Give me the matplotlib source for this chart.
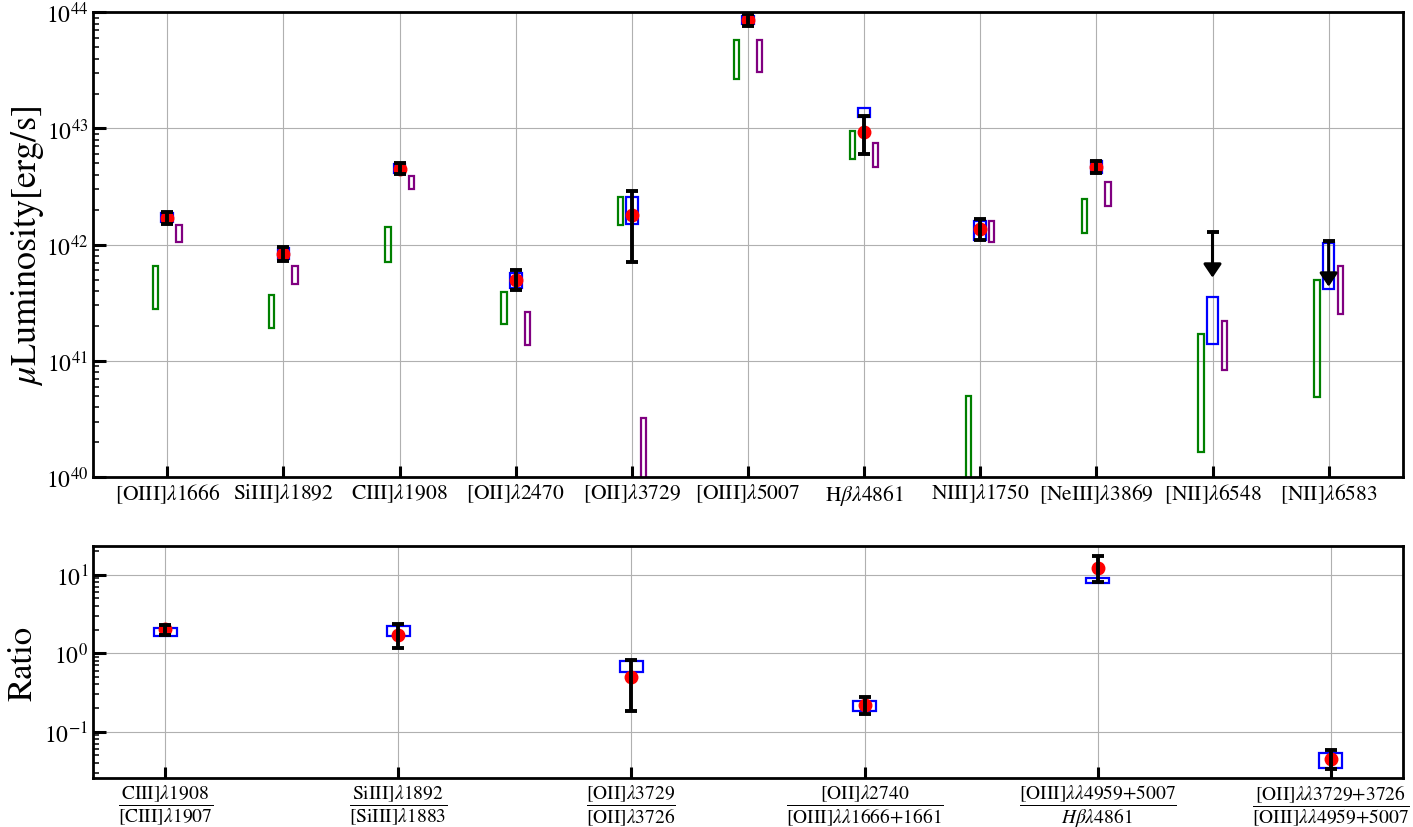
import numpy as np
import matplotlib
matplotlib.use("Agg")
import matplotlib.pyplot as plt

plt.rcParams["font.family"] = "serif"
plt.rcParams["font.serif"] = ["STIXGeneral", "Liberation Serif", "DejaVu Serif"]
plt.rcParams["mathtext.fontset"] = "stix"

# ---- luminosity panel ----
line_names = [r"[OIII]$\lambda$1666", r"SiIII]$\lambda$1892", r"CIII]$\lambda$1908",
              r"[OII]$\lambda$2470", r"[OII]$\lambda$3729", r"[OIII]$\lambda$5007",
              r"H$\beta\lambda$4861", r"NIII]$\lambda$1750", r"[NeIII]$\lambda$3869",
              r"[NII]$\lambda$6548", r"[NII]$\lambda$6583"]

# measured luminosities (nan = upper limit only)
lum = [1.70e42, 8.3e41, 4.52e42, 4.95e41, 1.79e42, 8.53e43, 9.35e42, 1.37e42, 4.63e42, np.nan, np.nan]
lum_lo = [1.51e42, 7.28e41, 4.07e42, 4.06e41, 7.08e41, 7.57e43, 6.0e42, 1.10e42, 4.12e42, np.nan, np.nan]
lum_hi = [1.91e42, 9.48e41, 5.01e42, 6.04e41, 2.88e42, 9.62e43, 1.27e43, 1.65e42, 5.20e42, np.nan, np.nan]

# upper limits for the [NII] lines
ulim_idx = [9, 10]
ulim_top = [1.29e42, 1.07e42]
ulim_tip = [5.2e41, 4.35e41]

# model ranges
blue_lo = [1.57e42, 7.46e41, 4.12e42, 4.23e41, 1.50e42, 7.89e43, 1.25e43, 1.10e42, 4.12e42, 1.40e41, 4.12e41]
blue_hi = [1.87e42, 9.35e41, 4.95e42, 5.66e41, 2.59e42, 9.25e43, 1.49e43, 1.60e42, 5.20e42, 3.54e41, 1.04e42]
green_lo = [2.77e41, 1.92e41, 7.08e41, 2.07e41, 1.49e42, 2.66e43, 5.51e42, 1e39, 1.25e42, 1.64e40, 4.85e40]
green_hi = [6.55e41, 3.66e41, 1.41e42, 3.90e41, 2.59e42, 5.74e43, 9.53e42, 5.02e40, 2.48e42, 1.69e41, 4.95e41]
purple_lo = [1.05e42, 4.61e41, 3.04e42, 1.36e41, 1e39, 3.04e43, 4.67e42, 1.06e42, 2.14e42, 8.41e40, 2.51e41]
purple_hi = [1.47e42, 6.55e41, 3.90e42, 2.62e41, 3.20e40, 5.74e43, 7.57e42, 1.60e42, 3.44e42, 2.22e41, 6.55e41]

# ---- ratio panel ----
ratio_names = [
    r"$\dfrac{\mathrm{CIII]}\lambda1908}{\mathrm{[CIII]}\lambda1907}$",
    r"$\dfrac{\mathrm{SiIII]}\lambda1892}{\mathrm{[SiIII]}\lambda1883}$",
    r"$\dfrac{\mathrm{[OII]}\lambda3729}{\mathrm{[OII]}\lambda3726}$",
    r"$\dfrac{\mathrm{[OII]}\lambda2740}{\mathrm{[OIII]}\lambda\lambda1666{+}1661}$",
    r"$\dfrac{\mathrm{[OIII]}\lambda\lambda4959{+}5007}{H\beta\lambda4861}$",
    r"$\dfrac{\mathrm{[OII]}\lambda\lambda3729{+}3726}{\mathrm{[OIII]}\lambda\lambda4959{+}5007}$",
]
ratio = [2.04, 1.72, 0.50, 0.219, 12.3, 0.0449]
ratio_lo = [1.71, 1.15, 0.182, 0.169, 8.0, 0.0335]
ratio_hi = [2.29, 2.38, 0.826, 0.277, 17.1, 0.059]
rblue_lo = [1.67, 1.67, 0.58, 0.184, 7.76, 0.0342]
rblue_hi = [2.11, 2.20, 0.789, 0.248, 9.0, 0.054]


def style_axis(ax):
    ax.set_yscale("log")
    ax.set_axisbelow(True)
    ax.grid(True, which="major", color="#b0b0b0", lw=0.8)
    for sp in ax.spines.values():
        sp.set_linewidth(2.0)
    ax.tick_params(axis="y", which="major", direction="in", length=9, width=2.2, labelsize=17)
    ax.tick_params(axis="y", which="minor", direction="in", length=4.5, width=1.1)
    ax.tick_params(axis="x", which="major", direction="in", length=8, width=2.2)


def boxes(ax, x, lo, hi, off, width, color):
    lo = np.array(lo)
    hi = np.array(hi)
    ax.bar(np.array(x) + off, hi - lo, bottom=lo, width=width, fill=False,
           edgecolor=color, linewidth=1.6, zorder=2)


fig = plt.figure(figsize=(14.13, 8.28), dpi=100)
ax1 = fig.add_axes([0.0658, 0.4227, 0.9271, 0.5612])
ax2 = fig.add_axes([0.0658, 0.0592, 0.9271, 0.2798])

# top panel
x1 = np.arange(len(line_names))
boxes(ax1, x1, green_lo, green_hi, -0.1, 0.045, "green")
boxes(ax1, x1, purple_lo, purple_hi, 0.1, 0.045, "purple")
boxes(ax1, x1, blue_lo, blue_hi, 0.0, 0.1, "blue")
lum_a = np.array(lum)
ax1.plot(x1, lum_a, "o", color="red", ms=9, zorder=3)
ax1.errorbar(x1, lum_a, yerr=[lum_a - np.array(lum_lo), np.array(lum_hi) - lum_a],
             fmt="none", ecolor="black", elinewidth=2.8, capsize=4.3, capthick=2.8, zorder=4)
for i, top, tip in zip(ulim_idx, ulim_top, ulim_tip):
    ax1.annotate("", xy=(x1[i], tip), xytext=(x1[i], top),
                 arrowprops=dict(arrowstyle="-|>,head_length=0.4,head_width=0.27",
                                 lw=2.2, color="black", shrinkA=0, shrinkB=0,
                                 mutation_scale=20), zorder=5)
    ax1.plot(x1[i], top, marker="_", ms=8.6, mew=2.8, color="black", zorder=5)

style_axis(ax1)
ax1.set_ylim(1e40, 1e44)
ax1.set_xlim(-0.64, 10.64)
ax1.set_xticks(x1)
ax1.set_xticklabels(line_names, fontsize=15.5)
ax1.set_ylabel(r"$\mu$Luminosity[erg/s]", fontsize=26)
ax1.yaxis.set_label_coords(-0.036, 0.5)

# bottom panel
x2 = np.arange(len(ratio_names))
boxes(ax2, x2, rblue_lo, rblue_hi, 0.0, 0.1, "blue")
r = np.array(ratio)
ax2.plot(x2, r, "o", color="red", ms=9, zorder=3)
ax2.errorbar(x2, r, yerr=[r - np.array(ratio_lo), np.array(ratio_hi) - r],
             fmt="none", ecolor="black", elinewidth=2.8, capsize=4.3, capthick=2.8, zorder=4)

style_axis(ax2)
ax2.set_ylim(0.0257, 23.0)
ax2.set_xlim(-0.31, 5.31)
ax2.set_xticks(x2)
ax2.set_xticklabels(ratio_names, fontsize=14)
ax2.set_ylabel("Ratio", fontsize=25)
ax2.yaxis.set_label_coords(-0.041, 0.5)

fig.savefig("out.png", dpi=100)
